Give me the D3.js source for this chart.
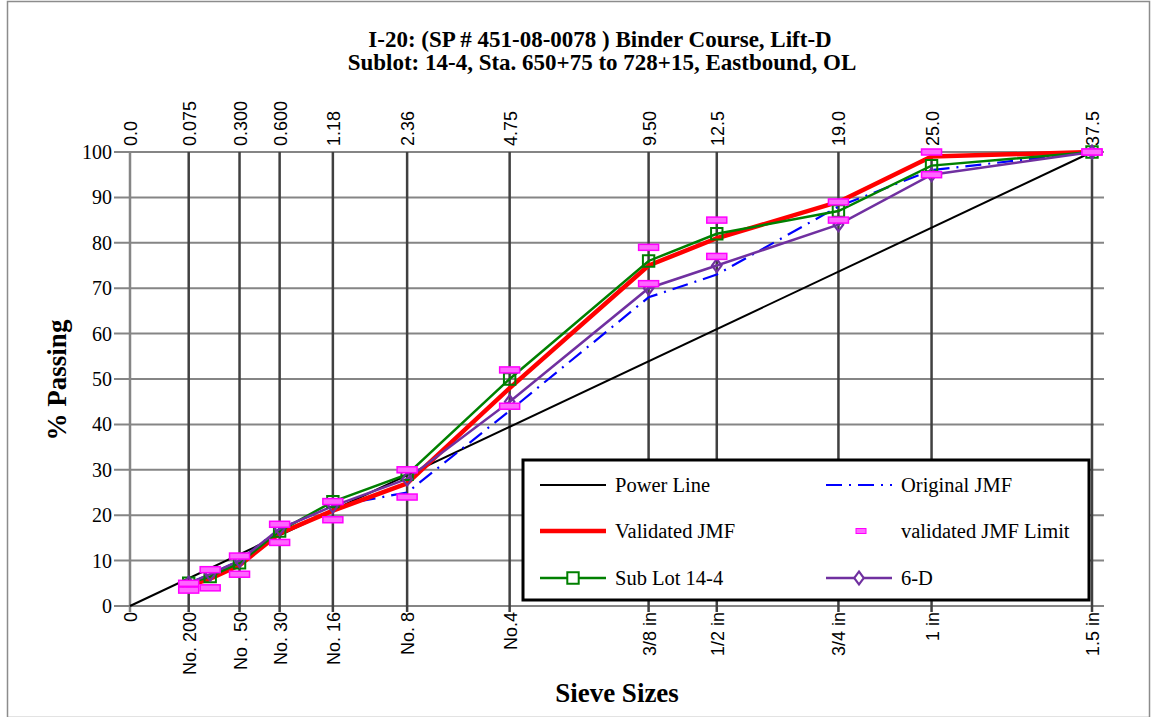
<!DOCTYPE html>
<html>
<head>
<meta charset="utf-8">
<script src="https://cdn.jsdelivr.net/npm/d3@7"></script>
<style>
  html, body { margin: 0; padding: 0; background: #fff; }
  svg { display: block; }
</style>
</head>
<body>
<svg id="chart" width="1154" height="717"></svg>
<script>
// Sieve openings (mm) used for the gradation curves
const sieves = [0.075, 0.15, 0.3, 0.6, 1.18, 2.36, 4.75, 9.5, 12.5, 19, 25, 37.5];

// Sieves drawn as vertical grid lines, with their mm and US labels
const gridSieves = [0, 0.075, 0.3, 0.6, 1.18, 2.36, 4.75, 9.5, 12.5, 19, 25, 37.5];
const topLabels = ["0.0", "0.075", "0.300", "0.600", "1.18", "2.36", "4.75", "9.50", "12.5", "19.0", "25.0", "37.5"];
const bottomLabels = ["0", "No. 200", "No . 50", "No. 30", "No. 16", "No. 8", "No.4", "3/8 in", "1/2 in", "3/4 in", "1 in", "1.5 in"];
const yTicks = [0, 10, 20, 30, 40, 50, 60, 70, 80, 90, 100];

// Maximum density (0.45 power) line: from the origin to 100% at the maximum size
const powerLine = [[0, 0], [37.5, 100]];

// Percent passing for each series
const originalJMF  = [5, 7, 10, 17, 22, 25, 43, 68, 73, 88, 96, 100];
const validatedJMF = [4.5, 6, 9, 16, 21, 27, 48, 75, 81, 89, 99, 100];
const limitUpper   = [5, 8, 11, 18, 23, 30, 52, 79, 85, 89, 100, 100];
const limitLower   = [3.5, 4, 7, 14, 19, 24, 44, 71, 77, 85, 95, 100];
const subLot144    = [5, 6.5, 9.5, 16.5, 23, 29, 50, 76, 82, 87, 97, 100];
const sixD         = [5, 7, 10, 17, 22, 28, 45, 70, 75, 84, 95, 100];

const serif = "'Liberation Serif', 'Times New Roman', serif";
const sans = "'Liberation Sans', Arial, sans-serif";

const svg = d3.select("#chart");

// Outer frame
svg.append("rect")
  .attr("x", 7.5).attr("y", 1.5).attr("width", 1142).attr("height", 716)
  .attr("fill", "none").attr("stroke", "#8c8c8c").attr("stroke-width", 1.5);

const x = d3.scalePow().exponent(0.45).domain([0, 37.5]).range([130, 1092]);
const y = d3.scaleLinear().domain([0, 100]).range([606, 152]);

// Title
const title = svg.append("text")
  .attr("x", 600).attr("text-anchor", "middle")
  .attr("font-family", serif).attr("font-weight", "bold").attr("font-size", 23);
title.append("tspan").attr("x", 600).attr("y", 47).text("I-20: (SP # 451-08-0078 ) Binder Course, Lift-D");
title.append("tspan").attr("x", 602).attr("y", 70).text("Sublot: 14-4, Sta. 650+75 to 728+15, Eastbound, OL");

// Horizontal grid
svg.append("g").selectAll("line").data(yTicks).join("line")
  .attr("x1", 114).attr("x2", 1104)
  .attr("y1", d => y(d)).attr("y2", d => y(d))
  .attr("stroke", "#858585").attr("stroke-width", 2);

// Vertical grid at each sieve
svg.append("g").selectAll("line").data(gridSieves).join("line")
  .attr("x1", d => x(d)).attr("x2", d => x(d))
  .attr("y1", y(100)).attr("y2", y(0) + 6)
  .attr("stroke", d => d === 0 ? "#858585" : "#404040")
  .attr("stroke-width", 2.5);

// Y axis labels
const yAxis = d3.axisLeft(y).tickValues(yTicks).tickSize(0).tickPadding(0).tickFormat(d3.format("d"));
svg.append("g").attr("transform", "translate(112,0)").call(yAxis)
  .call(g => g.select(".domain").remove())
  .selectAll("text")
  .attr("font-family", serif).attr("font-size", 20).attr("fill", "#000");

// Top axis: sieve openings in mm
const topAxis = d3.axisTop(x).tickValues(gridSieves).tickSize(0)
  .tickFormat((d, i) => topLabels[i]);
svg.append("g").attr("transform", `translate(0,${y(100)})`).call(topAxis)
  .call(g => g.select(".domain").remove())
  .selectAll("text")
  .attr("font-family", sans).attr("font-size", 18).attr("fill", "#000")
  .attr("transform", "rotate(-90)")
  .attr("x", 6).attr("y", 0).attr("dy", "0.36em")
  .attr("text-anchor", "start");

// Bottom axis: US sieve designations
const bottomAxis = d3.axisBottom(x).tickValues(gridSieves).tickSize(0)
  .tickFormat((d, i) => bottomLabels[i]);
svg.append("g").attr("transform", `translate(0,${y(0)})`).call(bottomAxis)
  .call(g => g.select(".domain").remove())
  .selectAll("text")
  .attr("font-family", sans).attr("font-size", 18).attr("fill", "#000")
  .attr("transform", "rotate(-90)")
  .attr("x", -6).attr("y", 0).attr("dy", "0.36em")
  .attr("text-anchor", "end");

// Axis titles
svg.append("text")
  .attr("transform", "translate(66,380) rotate(-90)")
  .attr("text-anchor", "middle")
  .attr("font-family", serif).attr("font-weight", "bold").attr("font-size", 27)
  .text("% Passing");
svg.append("text")
  .attr("x", 617).attr("y", 702).attr("text-anchor", "middle")
  .attr("font-family", serif).attr("font-weight", "bold").attr("font-size", 27)
  .text("Sieve Sizes");

// Curves
const line = d3.line().x(d => x(d[0])).y(d => y(d[1]));
const pairs = vals => sieves.map((s, i) => [s, vals[i]]);

const plot = svg.append("g");
plot.append("path").datum(powerLine).attr("d", line)
  .attr("fill", "none").attr("stroke", "#000").attr("stroke-width", 2);
plot.append("path").datum(pairs(originalJMF)).attr("d", line)
  .attr("fill", "none").attr("stroke", "#0000ff").attr("stroke-width", 2.2)
  .attr("stroke-dasharray", "16,7,2,7");
plot.append("path").datum(pairs(validatedJMF)).attr("d", line)
  .attr("fill", "none").attr("stroke", "#ff0000").attr("stroke-width", 4.5)
  .attr("stroke-linejoin", "round");
plot.append("path").datum(pairs(subLot144)).attr("d", line)
  .attr("fill", "none").attr("stroke", "#008000").attr("stroke-width", 2.5);
plot.append("path").datum(pairs(sixD)).attr("d", line)
  .attr("fill", "none").attr("stroke", "#7030a0").attr("stroke-width", 2.5);

// Markers
const squareSym = d3.symbol().type(d3.symbolSquare).size(130);
const diamondSym = d3.symbol().type(d3.symbolDiamond).size(60);

plot.append("g").selectAll("path").data(pairs(subLot144)).join("path")
  .attr("d", squareSym)
  .attr("transform", d => `translate(${x(d[0])},${y(d[1])})`)
  .attr("fill", "none").attr("stroke", "#008000").attr("stroke-width", 2);
plot.append("g").selectAll("path").data(pairs(sixD)).join("path")
  .attr("d", diamondSym)
  .attr("transform", d => `translate(${x(d[0])},${y(d[1])}) scale(1.15,0.9)`)
  .attr("fill", "none").attr("stroke", "#7030a0").attr("stroke-width", 2);

// Validated JMF tolerance limits
const limits = pairs(limitUpper).concat(pairs(limitLower));
plot.append("g").selectAll("rect").data(limits).join("rect")
  .attr("x", d => x(d[0]) - 10).attr("y", d => y(d[1]) - 3)
  .attr("width", 20).attr("height", 6)
  .attr("fill", "#ff66ff").attr("stroke", "#ff00ff").attr("stroke-width", 1.5);

// Legend
const legend = svg.append("g");
legend.append("rect")
  .attr("x", 523).attr("y", 460).attr("width", 566).attr("height", 140)
  .attr("fill", "#fff").attr("stroke", "#000").attr("stroke-width", 3);

const legendItems = [
  { name: "Power Line", col: 0, row: 0, color: "#000", width: 2 },
  { name: "Original JMF", col: 1, row: 0, color: "#0000ff", width: 2.2, dash: "16,7,2,7" },
  { name: "Validated JMF", col: 0, row: 1, color: "#ff0000", width: 4.5 },
  { name: "validated JMF Limit", col: 1, row: 1, limit: true },
  { name: "Sub Lot 14-4", col: 0, row: 2, color: "#008000", width: 2.5, marker: "square" },
  { name: "6-D", col: 1, row: 2, color: "#7030a0", width: 2.5, marker: "diamond" }
];
const colX = [540, 826];
const rowY = [485, 531, 578];

legendItems.forEach(it => {
  const lx = colX[it.col], ly = rowY[it.row];
  const g = legend.append("g");
  if (it.limit) {
    g.append("rect").attr("x", lx + 30).attr("y", ly - 2.5).attr("width", 10).attr("height", 5)
      .attr("fill", "#ff66ff").attr("stroke", "#ff00ff").attr("stroke-width", 1);
  } else {
    g.append("line").attr("x1", lx).attr("x2", lx + 66).attr("y1", ly).attr("y2", ly)
      .attr("stroke", it.color).attr("stroke-width", it.width)
      .attr("stroke-dasharray", it.dash || null);
    if (it.marker === "square") {
      g.append("path").attr("d", squareSym).attr("transform", `translate(${lx + 33},${ly})`)
        .attr("fill", "#fff").attr("stroke", it.color).attr("stroke-width", 2);
    } else if (it.marker === "diamond") {
      g.append("path").attr("d", diamondSym).attr("transform", `translate(${lx + 33},${ly}) scale(1.15,0.9)`)
        .attr("fill", "#fff").attr("stroke", it.color).attr("stroke-width", 2);
    }
  }
  g.append("text").attr("x", lx + 75).attr("y", ly).attr("dy", "0.35em")
    .attr("font-family", serif).attr("font-size", 20.5).attr("fill", "#000")
    .text(it.name);
});
</script>
</body>
</html>
